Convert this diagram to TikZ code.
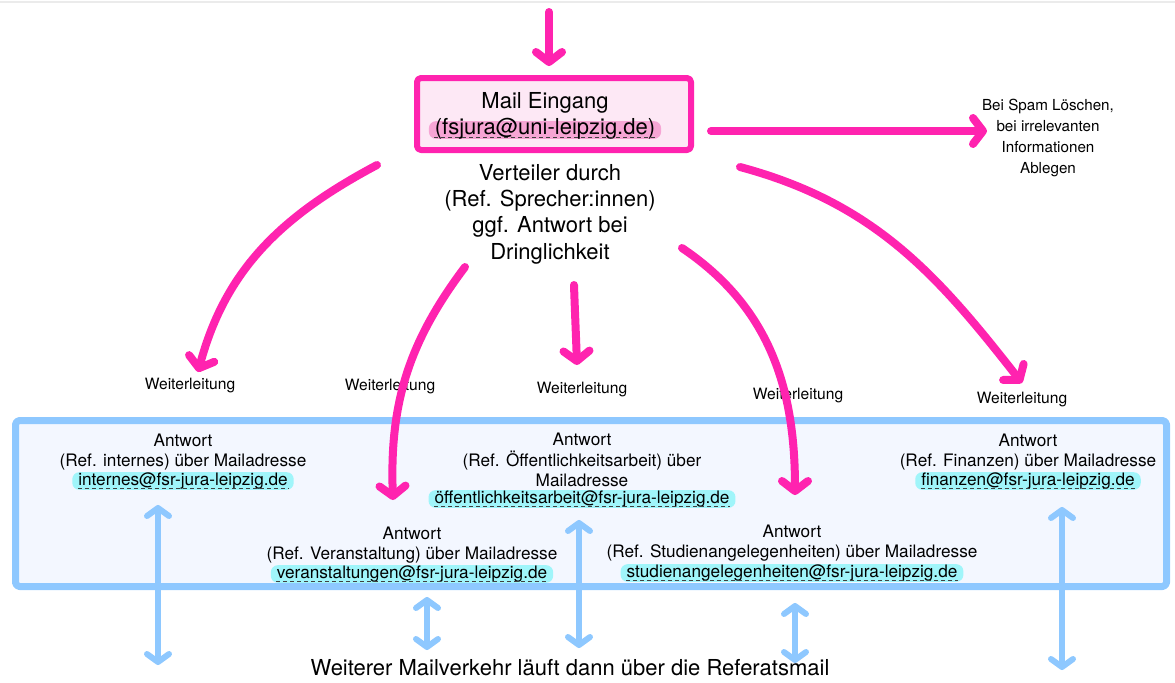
\documentclass[tikz,border=0pt]{standalone}
\usepackage{fontspec}
\setmainfont{TeX Gyre Heros}
\usetikzlibrary{arrows.meta}
\definecolor{mag}{RGB}{255,35,175}
\definecolor{magfill}{RGB}{253,232,245}
\definecolor{maghl}{RGB}{246,165,212}
\definecolor{sky}{RGB}{142,200,255}
\definecolor{skyfill}{RGB}{243,247,255}
\definecolor{cyanhl}{RGB}{160,245,250}
\tikzset{
  pen/.style={draw=mag, line width=4pt, -{Straight Barb[round,length=5pt,width=13pt]}},
  twoway/.style={draw=sky, line width=3pt,
    {Straight Barb[round,length=4pt,width=11pt]}-{Straight Barb[round,length=4pt,width=11pt]}},
  txt/.style={font=\fontsize{11}{13.2}\selectfont, align=center, inner sep=1pt},
  sml/.style={font=\fontsize{8.6}{10.25}\selectfont, align=center, inner sep=1pt},
  fwd/.style={font=\fontsize{7.8}{9}\selectfont, inner sep=1pt},
  addr/.style={fill=#1, rounded corners=3.5pt, inner xsep=3pt, inner ysep=0.6pt,
    text height=1.15ex, text depth=0.3ex}
}
\begin{document}
\begin{tikzpicture}[x=0.5pt, y=-0.5pt, line join=round, line cap=round]
  \useasboundingbox (0,0) rectangle (1175,682);
  \draw[black!8, line width=1pt] (0,2) -- (1175,2);
  % eingang
  \node[draw=mag, fill=magfill, line width=3pt, rounded corners=2pt,
    minimum width=137pt, minimum height=36pt] (in) at (554,114) {};
  \node[txt] (inT) at (545,103) {Mail Eingang};
  \node[txt, addr=maghl] (inM) at (545,130) {(fsjura@uni-leipzig.de)};
  \node[txt] (dist) at (550,214) {Verteiler durch\\(Ref. Sprecher:innen)\\ggf. Antwort bei\\Dringlichkeit};
  \node[sml, font=\fontsize{7.6}{10.4}\selectfont] (spam) at (1048,138)
    {Bei Spam Löschen,\\bei irrelevanten\\Informationen\\Ablegen};
  % referate
  \node[draw=sky, fill=skyfill, line width=3.5pt, rounded corners=2pt,
    minimum width=575.5pt, minimum height=83pt] (ans) at (591,503.5) {};
  \foreach \n/\x/\y/\t/\m/\my in {
      i/183/452/{Antwort\\(Ref. internes) über Mailadresse}/internes@fsr-jura-leipzig.de/481,
      o/582/460/{Antwort\\(Ref. Öffentlichkeitsarbeit) über\\Mailadresse}/öffentlichkeitsarbeit@fsr-jura-leipzig.de/499,
      f/1028/452/{Antwort\\(Ref. Finanzen) über Mailadresse}/finanzen@fsr-jura-leipzig.de/481,
      v/412/545/{Antwort\\(Ref. Veranstaltung) über Mailadresse}/veranstaltungen@fsr-jura-leipzig.de/574,
      s/792/543/{Antwort\\(Ref. Studienangelegenheiten) über Mailadresse}/studienangelegenheiten@fsr-jura-leipzig.de/573}
  {
    \node[sml] (a\n) at (\x,\y) {\t};
    \node[sml, addr=cyanhl] (m\n) at (\x,\my) {\m};
  }
  \foreach \m in {inM,mi,mo,mf,mv,ms}
    \draw[black!75, line width=0.5pt, dash pattern=on 2pt off 1.5pt, line cap=butt]
      ([shift={(3pt,-1.6pt)}]\m.base west) -- ([shift={(-3pt,-1.6pt)}]\m.base east);
  \foreach \x/\y [count=\k] in {190/386,390/387,582/390,798/396,1022/400}
    \node[fwd] (w\k) at (\x,\y) {Weiterleitung};
  \node[txt] (more) at (570,668) {Weiterer Mailverkehr läuft dann über die Referatsmail};
  % pfeile
  \path (549,12) coordinate (top) (549,66) coordinate (topE)
    (377,165) coordinate (s1) (198,372) coordinate (e1)
    (465,267) coordinate (s2) (393,500) coordinate (e2)
    (574,285) coordinate (s3) (577,365) coordinate (e3)
    (682,248) coordinate (s4) (795,495) coordinate (e4)
    (740,167) coordinate (s5) (1022,383) coordinate (e5);
  \draw[pen] (top) -- (topE);
  \draw[pen] ([shift={(8.5pt,-8.5pt)}]in.east) -- ++(138pt,0) coordinate (spamE);
  \draw[pen] (s1) to[out=208,in=75] (e1);
  \draw[pen] (s2) to[out=233,in=92] (e2);
  \draw[pen] (s3) to[out=-88,in=92] (e3);
  \draw[pen] (s4) to[out=-34,in=90] (e4);
  \draw[pen] (s5) to[out=-15,in=128] (e5);
  \foreach \x/\a/\b [count=\k] in {158/505/665,427/597/650,579/520/648,795/603/663,1062/507/670}
    \path (\x,\a) coordinate (up\k) (\x,\b) coordinate (dn\k);
  \foreach \k in {1,...,5} \draw[twoway] (up\k) -- (dn\k);
\end{tikzpicture}
\end{document}
